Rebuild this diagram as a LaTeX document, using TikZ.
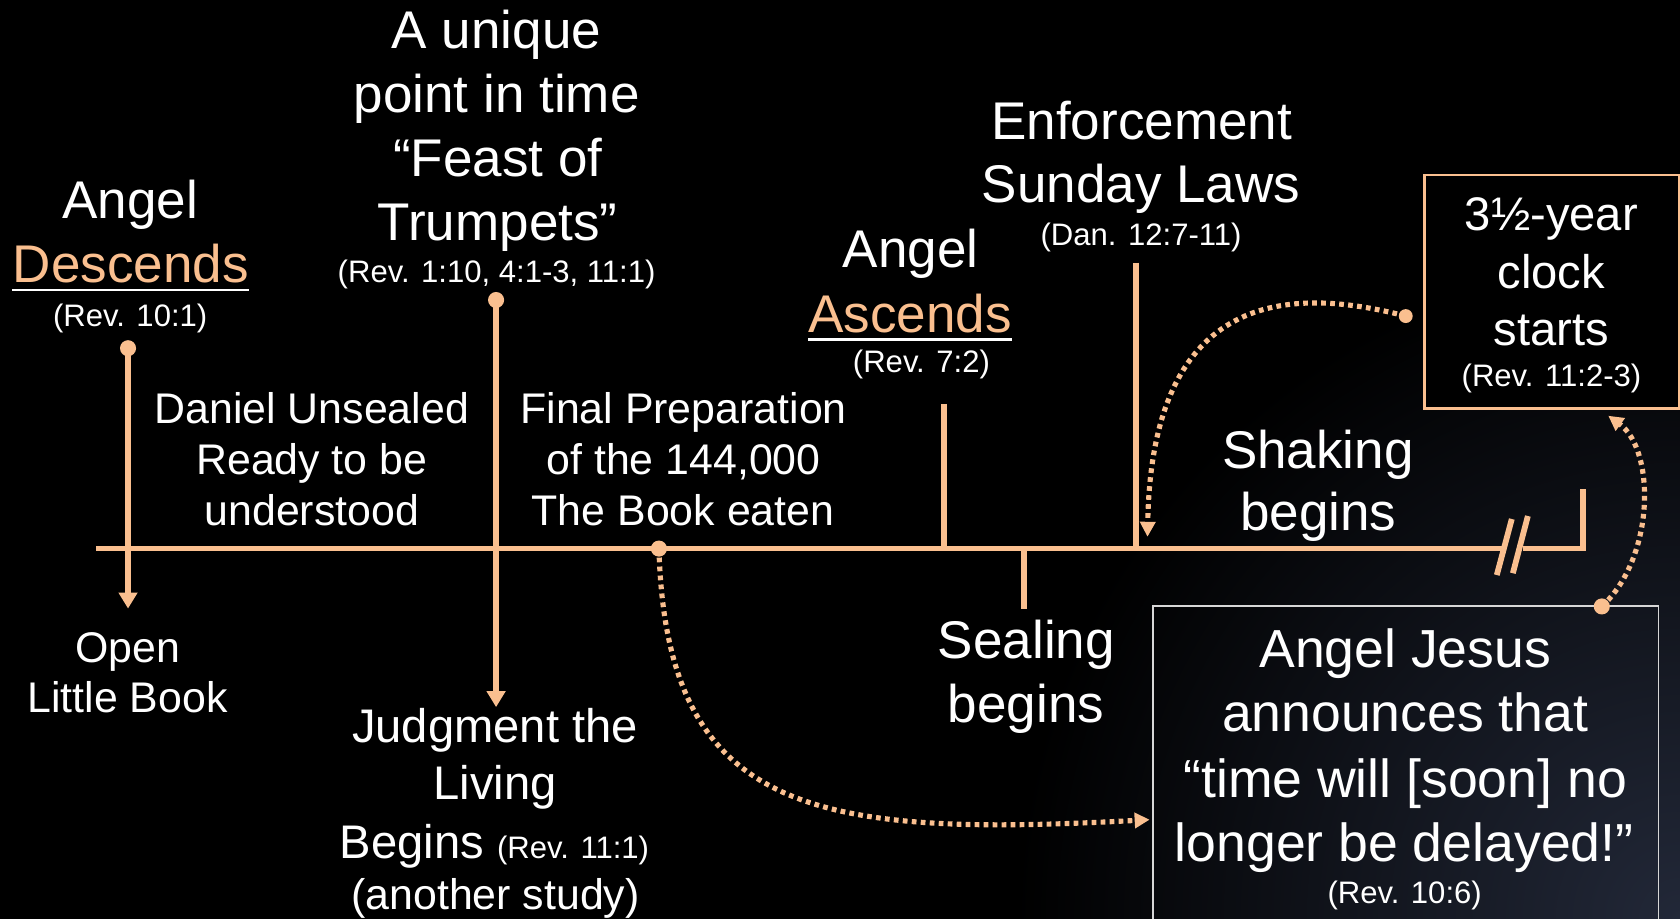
\documentclass[tikz,border=0pt]{standalone}
\usepackage{fontspec}
\setmainfont{Liberation Sans}
\usetikzlibrary{arrows.meta}
\definecolor{peach}{RGB}{250,191,143}
\definecolor{glow}{RGB}{34,40,56}
\definecolor{boxgray}{RGB}{215,215,215}
\newcommand\szBig{\fontsize{24.75}{30}\selectfont}
\newcommand\szMed{\fontsize{20}{24}\selectfont}
\newcommand\szMid{\fontsize{22}{26}\selectfont}
\newcommand\szSm{\fontsize{14.5}{17}\selectfont}
\newcommand\szJ{\fontsize{25}{30}\selectfont}
\begin{document}
\begin{tikzpicture}[x=0.5pt,y=-0.5pt,
  txt/.style={text=white, inner sep=0pt, anchor=base, font=\szBig},
  tl/.style={draw=peach, line width=2.7pt},
  solidarrow/.style={draw=peach, line width=2.6pt, -{Triangle[width=8.5pt,length=7.5pt]}},
  dotn/.style={circle, fill=peach, inner sep=0pt, minimum size=7.5pt},
  dots/.style={draw=peach, line width=2.4pt, dash pattern=on 2.2pt off 2pt, -{Triangle[width=7pt,length=7pt]}},
  uline/.style={draw=white, line width=1.25pt}]
\useasboundingbox (0,0) rectangle (1568,857.7);
\fill[black] (0,0) rectangle (1568,857.7);
\begin{scope}
  \clip (0,0) rectangle (1568,857.7);
  \shade[inner color=glow, outer color=black] (1568,857.7) circle[radius=620];
\end{scope}

% ---- timeline ----
\coordinate (tlS) at (90,512);
\coordinate (tlB) at (1401.6,512);
\coordinate (brA1) at (1397,536.7);
\coordinate (brA2) at (1411,484.4);
\coordinate (brB1) at (1412,535);
\coordinate (brB2) at (1426,481.6);
\coordinate (tlR) at (1421,512);
\coordinate (tlC) at (1477.5,512);
\coordinate (tlE) at (1477.5,456.4);
\draw[tl] (tlS) -- (tlB);
\draw[tl] (brA1) -- (brA2);
\draw[tl] (brB1) -- (brB2);
\draw[tl, line join=miter] (tlR) -- (tlC) -- (tlE);

% ---- Angel descends ----
\node[txt] (angA) at (121.5,204) {Angel};
\node[txt, text=peach] (descA) at (122,264) {Descends};
\draw[uline] ([yshift=-3.4pt]descA.base west) -- ([yshift=-3.4pt]descA.base east);
\node[txt, font=\szSm] (revA) at (121.5,305) {(Rev. 10:1)};
\node[dotn] (dotA) at (119.5,325) {};
\coordinate (tipA) at (119.5,568);
\draw[solidarrow] (dotA.center) -- (tipA);
\node[txt, font=\szMed] (open1) at (119,618) {Open};
\node[txt, font=\szMed] (open2) at (119,665) {Little Book};

% ---- Daniel unsealed ----
\node[txt, font=\szMed] (dan1) at (291,395) {Daniel Unsealed};
\node[txt, font=\szMed] (dan2) at (291,442.5) {Ready to be};
\node[txt, font=\szMed] (dan3) at (291,490) {understood};

% ---- Feast of trumpets ----
\node[txt] (ft1) at (463.5,45) {A unique};
\node[txt] (ft2) at (463.5,105) {point in time};
\node[txt] (ft3) at (464.5,165) {“Feast of};
\node[txt] (ft4) at (464.5,224) {Trumpets”};
\node[txt, font=\szSm] (ft5) at (463.5,264) {(Rev. 1:10, 4:1-3, 11:1)};
\node[dotn] (dotB) at (463,280) {};
\coordinate (tipB) at (463,660);
\draw[solidarrow] (dotB.center) -- (tipB);
\node[txt, font=\szMid] (jg1) at (462,693) {Judgment the};
\node[txt, font=\szMid] (jg2) at (462,746) {Living};
\node[txt, font=\szMid] (jg3) at (461.5,801) {Begins {\szSm (Rev. 11:1)}};
\node[txt, font=\szMed] (jg4) at (462.5,849) {(another study)};

% ---- Final preparation ----
\node[txt, font=\szMed] (fp1) at (638,395) {Final Preparation};
\node[txt, font=\szMed] (fp2) at (638,442.5) {of the 144,000};
\node[txt, font=\szMed] (fp3) at (637.5,490) {The Book eaten};
\node[dotn] (dotC) at (615,512) {};

% ---- Angel ascends ----
\node[txt] (angB) at (850,250) {Angel};
\node[txt, text=peach] (ascB) at (849.5,310) {Ascends};
\draw[uline] ([yshift=-3.4pt]ascB.base west) -- ([yshift=-3.4pt]ascB.base east);
\node[txt, font=\szSm] (revB) at (860,348) {(Rev. 7:2)};
\coordinate (tkAsc) at (881,377);
\draw[tl] (tkAsc) -- (tkAsc |- tlS);

% ---- Enforcement ----
\node[txt] (enf1) at (1065.5,130) {Enforcement};
\node[txt] (enf2) at (1065,189) {Sunday Laws};
\node[txt, font=\szSm] (enf3) at (1065,229) {(Dan. 12:7-11)};
\coordinate (tkEnf) at (1060,245);
\draw[tl] (tkEnf) -- (tkEnf |- tlS);

% ---- Sealing ----
\coordinate (tkSeal) at (956,568);
\draw[tl] (tkSeal |- tlS) -- (tkSeal);
\node[txt] (seal1) at (958,615) {Sealing};
\node[txt] (seal2) at (957.5,674) {begins};

% ---- Shaking ----
\node[txt] (shk1) at (1230,437) {Shaking};
\node[txt] (shk2) at (1230.5,495) {begins};

% ---- 3.5 year box ----
\node[draw=peach, line width=1.3pt, fill=black, inner sep=0pt, anchor=north west,
      minimum width=119pt, minimum height=109pt] (clk) at (1328,162) {};
\node[txt, font=\szMid] (clk1) at (1448,215) {3½-year};
\node[txt, font=\szMid] (clk2) at (1448,269) {clock};
\node[txt, font=\szMid] (clk3) at (1448,322) {starts};
\node[txt, font=\szSm] (clk4) at (1448,361) {(Rev. 11:2-3)};
\node[dotn, minimum size=6.5pt] (dotD) at (1312,295) {};

% ---- Angel Jesus box ----
\node[draw=boxgray, line width=0.8pt, inner sep=0pt, anchor=north west,
      minimum width=236pt, minimum height=155pt] (jbox) at (1075,565) {};
\node[txt, font=\szJ] (jb1) at (1311.5,623) {Angel Jesus};
\node[txt, font=\szJ] (jb2) at (1311.5,683) {announces that};
\node[txt, font=\szJ] (jb3) at (1311.5,744) {“time will [soon] no};
\node[txt, font=\szJ] (jb4) at (1310.5,804) {longer be delayed!”};
\node[txt, font=\szSm] (jb5) at (1311,843) {(Rev. 10:6)};
\node[dotn] (dotE) at (1495,566) {};

% ---- dotted connectors ----
\coordinate (jin) at (1073,765);
\coordinate (enfin) at (1071,501);
\coordinate (clkin) at (1501,388);
\draw[dots] (dotC.center) .. controls (622,760) and (760,782) .. (jin);
\draw[dots] (dotD.center) .. controls (1215,270) and (1075,262) .. (enfin);
\draw[dots] (dotE.center) .. controls (1545,520) and (1545,420) .. (clkin);
\end{tikzpicture}
\end{document}
